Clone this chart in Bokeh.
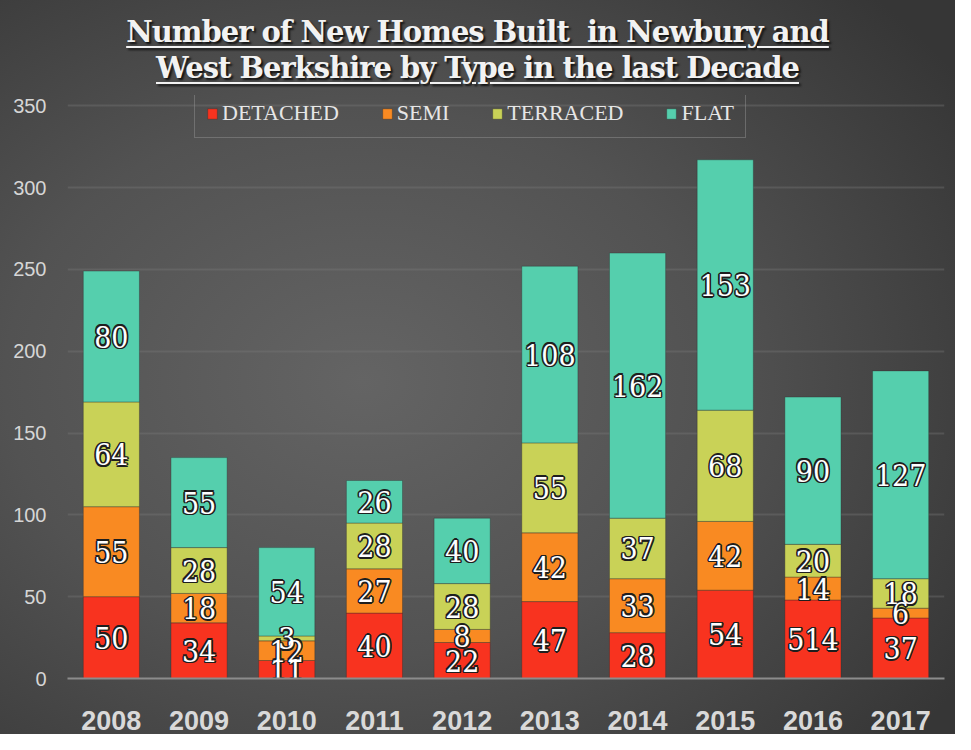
from bokeh.plotting import figure
from bokeh.models import (ColumnDataSource, Legend, LegendItem, Div, Range1d,
                          FactorRange, FixedTicker)
from bokeh.layouts import column
from bokeh.core.properties import value
from bokeh.embed import file_html
from bokeh.resources import INLINE

# ---------------- data ----------------
years = ["2008", "2009", "2010", "2011", "2012", "2013", "2014", "2015", "2016", "2017"]
series_names = ["DETACHED", "SEMI", "TERRACED", "FLAT"]
detached = [50, 34, 11, 40, 22, 47, 28, 54, 48, 37]
semi = [55, 18, 12, 27, 8, 42, 33, 42, 14, 6]
terraced = [64, 28, 3, 28, 28, 55, 37, 68, 20, 18]
flat = [80, 55, 54, 26, 40, 108, 162, 153, 90, 127]
# labels as printed on the chart (2016 detached is printed "514")
detached_labels = ["50", "34", "11", "40", "22", "47", "28", "54", "514", "37"]
semi_labels = [str(v) for v in semi]
terraced_labels = [str(v) for v in terraced]
flat_labels = [str(v) for v in flat]
y_ticks = [0, 50, 100, 150, 200, 250, 300, 350]
title_lines = ["Number of New Homes Built&nbsp; in Newbury and",
               "West Berkshire by Type in the last Decade"]

colors = ["#f8331f", "#f98a22", "#c9d257", "#55cfad"]
keys = ["detached", "semi", "terraced", "flat"]

src = ColumnDataSource(dict(year=years, detached=detached, semi=semi,
                            terraced=terraced, flat=flat))

p = figure(x_range=FactorRange(factors=years), y_range=Range1d(0, 356.3),
           width=955, height=639, output_backend="svg", toolbar_location=None,
           min_border_left=67, min_border_right=11, min_border_top=0,
           min_border_bottom=56)
p.background_fill_alpha = 0
p.border_fill_alpha = 0
p.outline_line_color = None

renderers = p.vbar_stack(keys, x="year", width=0.64, source=src, color=colors,
                         line_color="#2a2a2a", line_alpha=0.35, line_width=1)

# segment labels
lx, ly, lt = [], [], []
all_vals = [detached, semi, terraced, flat]
all_labels = [detached_labels, semi_labels, terraced_labels, flat_labels]
for i, yr in enumerate(years):
    base = 0
    for vals, labs in zip(all_vals, all_labels):
        lx.append(yr)
        ly.append(base + vals[i] / 2.0)
        lt.append(labs[i])
        base += vals[i]
lsrc = ColumnDataSource(dict(x=lx, y=ly, text=lt))

label_font = value("DejaVu Serif Condensed")
label_size = "30px"
for dx, dy in [(-1.6, 0), (1.6, 0), (0, -1.6), (0, 1.6),
               (-1.2, -1.2), (1.2, 1.2), (-1.2, 1.2), (1.2, -1.2)]:
    p.text(x="x", y="y", text="text", source=lsrc, text_align="center",
           text_baseline="middle", text_color="#1e1e1e", text_font=label_font,
           text_font_size=label_size, x_offset=dx, y_offset=dy)
p.text(x="x", y="y", text="text", source=lsrc, text_align="center",
       text_baseline="middle", text_color="#ffffff", text_font=label_font,
       text_font_size=label_size)

# legend
legend = Legend(items=[LegendItem(label=n, renderers=[r])
                       for n, r in zip(series_names, renderers)],
                orientation="horizontal", location=(127, 540))
legend.border_line_color = "#909090"
legend.border_line_width = 1.5
legend.background_fill_alpha = 0
legend.label_text_color = "#e6e6e6"
legend.label_text_font = "Liberation Serif"
legend.label_text_font_size = "22px"
legend.glyph_width = 12
legend.glyph_height = 13
legend.label_standoff = 4
legend.spacing = 42
legend.padding = 11
legend.label_height = 20
legend.margin = 0
p.add_layout(legend)

# axes
p.yaxis.ticker = FixedTicker(ticks=y_ticks)
p.yaxis.axis_line_color = None
p.yaxis.major_tick_line_color = None
p.yaxis.minor_tick_line_color = None
p.yaxis.major_label_text_font = "Liberation Sans"
p.yaxis.major_label_text_font_size = "20px"
p.yaxis.major_label_text_color = "#d6d6d6"
p.yaxis.major_label_standoff = 15

p.xaxis.axis_line_color = "#8c8c8c"
p.xaxis.axis_line_width = 2
p.xaxis.major_tick_line_color = None
p.xaxis.minor_tick_line_color = None
p.xaxis.major_label_text_font = "Liberation Sans"
p.xaxis.major_label_text_font_style = "bold"
p.xaxis.major_label_text_font_size = "27px"
p.xaxis.major_label_text_color = "#d9d9d9"
p.xaxis.major_label_standoff = 26

p.xgrid.grid_line_color = None
p.ygrid.grid_line_color = "#7a7a7a"
p.ygrid.grid_line_alpha = 0.35
p.ygrid.grid_line_width = 2

title_html = (
    '<div style="width:955px; text-align:center; font-family:\'DejaVu Serif\';'
    ' font-weight:bold; font-size:29px; letter-spacing:-1px; color:#f2f2f2;'
    ' line-height:35.5px; padding-top:15px;'
    ' text-decoration:underline; text-decoration-thickness:2px;'
    ' text-underline-offset:4px; text-shadow:2px 2px 2px #111;">'
    + "<br>".join(title_lines) + "</div>"
)
title = Div(text=title_html, width=955, height=95, margin=(0, 0, 0, 0))

layout = column(title, p, styles={
    "background": "radial-gradient(ellipse 75% 75% at 38% 52%, #646464 0%, "
                  "#525252 50%, #363636 100%)"})

open("out.html", "w").write(file_html(layout, INLINE))
